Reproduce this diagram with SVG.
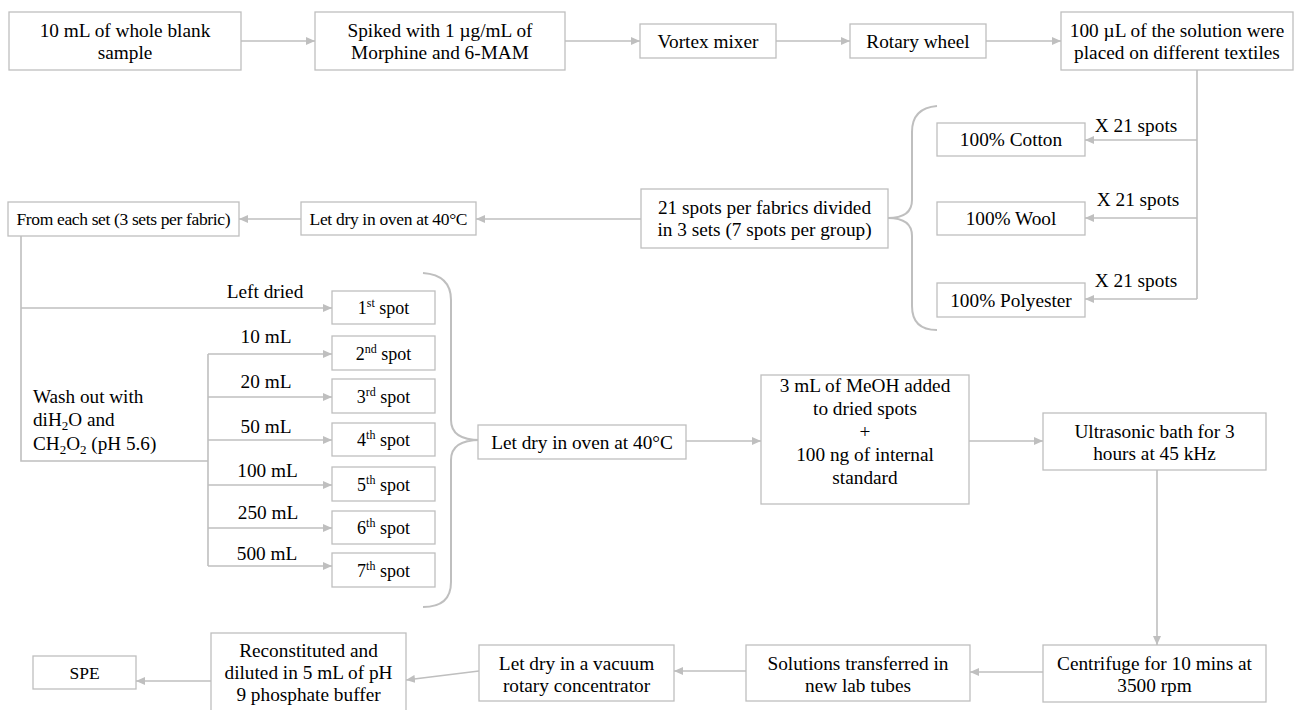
<svg xmlns="http://www.w3.org/2000/svg" width="1298" height="710" viewBox="0 0 1298 710">
<defs>
<marker id="ah" markerUnits="userSpaceOnUse" markerWidth="9" markerHeight="8" refX="9" refY="4" orient="auto">
<path d="M0,0 L9,4 L0,8 z" fill="#bfbfbf"/>
</marker>
<style>
.b{fill:#fff;stroke:#bfbfbf;stroke-width:1.3}
.t{font-family:"Liberation Serif","Times New Roman",serif;font-size:19.3px;fill:#000;text-anchor:middle}
.l{font-family:"Liberation Serif","Times New Roman",serif;font-size:19.2px;fill:#000}
.sm{font-size:17.5px}
.sp{font-size:18px}
.c{fill:none;stroke:#bfbfbf;stroke-width:1.6}
.a{fill:none;stroke:#bfbfbf;stroke-width:1.6;marker-end:url(#ah)}
.br{fill:none;stroke:#bfbfbf;stroke-width:2}
</style>
</defs>
<rect width="1298" height="710" fill="#fff"/>
<g id="connectors">
<line class="a" x1="241" y1="41" x2="315" y2="41"/>
<line class="a" x1="565" y1="41" x2="640" y2="41"/>
<line class="a" x1="776" y1="41" x2="850" y2="41"/>
<line class="a" x1="986" y1="41" x2="1061" y2="41"/>
<line class="c" x1="1197" y1="70" x2="1197" y2="299"/>
<line class="a" x1="1197" y1="140" x2="1085" y2="140"/>
<line class="a" x1="1197" y1="218" x2="1085" y2="218"/>
<line class="a" x1="1197" y1="299" x2="1085" y2="299"/>
<line class="a" x1="641" y1="219" x2="476" y2="219"/>
<line class="a" x1="301" y1="219" x2="239" y2="219"/>
<polyline class="c" points="21,236 21,461 208,461"/>
<line class="a" x1="21" y1="308" x2="332" y2="308"/>
<line class="c" x1="208" y1="354" x2="208" y2="566"/>
<line class="a" x1="208" y1="354" x2="332" y2="354"/>
<line class="a" x1="208" y1="397" x2="332" y2="397"/>
<line class="a" x1="208" y1="440" x2="332" y2="440"/>
<line class="a" x1="208" y1="485" x2="332" y2="485"/>
<line class="a" x1="208" y1="528" x2="332" y2="528"/>
<line class="a" x1="208" y1="566" x2="332" y2="566"/>
<line class="a" x1="686" y1="441" x2="761" y2="441"/>
<line class="a" x1="969" y1="441" x2="1043" y2="441"/>
<line class="a" x1="1157" y1="470" x2="1157" y2="645"/>
<line class="a" x1="1043" y1="672" x2="970" y2="672"/>
<line class="a" x1="746" y1="671" x2="674" y2="671"/>
<line class="a" x1="479" y1="671" x2="406" y2="680"/>
<line class="a" x1="211" y1="681" x2="136" y2="681"/>
<path class="br" d="M937,106 Q912,108 912,132 L912,200 Q912,218 888,218 Q912,218 912,236 L912,306 Q912,330 937,330"/>
<path class="br" d="M423,273 Q451,275 451,300 L451,420 Q451,440 480,440 Q451,440 451,460 L451,582 Q451,607 423,607"/>
</g>
<g id="n1"><rect class="b" x="9" y="12" width="232" height="58"/><text class="t" x="125" y="37">10 mL of whole blank</text><text class="t" x="125" y="59">sample</text></g>
<g id="n2"><rect class="b" x="315" y="12" width="250" height="58"/><text class="t" x="440" y="37">Spiked with 1 µg/mL of</text><text class="t" x="440" y="59">Morphine and 6-MAM</text></g>
<g id="n3"><rect class="b" x="640" y="24" width="136" height="34"/><text class="t" x="708" y="47.5">Vortex mixer</text></g>
<g id="n4"><rect class="b" x="850" y="24" width="136" height="34"/><text class="t" x="918" y="47.5">Rotary wheel</text></g>
<g id="n5"><rect class="b" x="1061" y="12" width="232" height="58"/><text class="t" x="1177" y="37">100 µL of the solution were</text><text class="t" x="1177" y="59">placed on different textiles</text></g>
<g id="cotton"><rect class="b" x="937" y="123" width="148" height="33"/><text class="t" x="1011" y="146">100% Cotton</text></g>
<g id="wool"><rect class="b" x="937" y="202" width="148" height="33"/><text class="t" x="1011" y="225">100% Wool</text></g>
<g id="polyester"><rect class="b" x="937" y="283" width="148" height="34"/><text class="t" x="1011" y="306.5">100% Polyester</text></g>
<g id="labels-x21"><text class="t" x="1136" y="132">X 21 spots</text><text class="t" x="1138" y="206">X 21 spots</text><text class="t" x="1136" y="287">X 21 spots</text></g>
<g id="n21"><rect class="b" x="641" y="189" width="247" height="59"/><text class="t" x="764.5" y="214">21 spots per fabrics divided</text><text class="t" x="764.5" y="236">in 3 sets (7 spots per group)</text></g>
<g id="dry1"><rect class="b" x="301" y="202" width="175" height="33"/><text class="t sm" x="388.5" y="224.5" textLength="158" lengthAdjust="spacing">Let dry in oven at 40°C</text></g>
<g id="fromeach"><rect class="b" x="8" y="202" width="231" height="34"/><text class="t sm" x="123.5" y="225" textLength="214" lengthAdjust="spacing">From each set (3 sets per fabric)</text></g>
<g id="branch-labels">
<text class="t" x="265" y="298">Left dried</text>
<text class="t" x="266" y="343">10 mL</text>
<text class="t" x="266" y="388">20 mL</text>
<text class="t" x="266" y="433">50 mL</text>
<text class="t" x="267.5" y="477">100 mL</text>
<text class="t" x="268" y="519">250 mL</text>
<text class="t" x="267" y="560">500 mL</text>
<text class="l" x="33" y="403">Wash out with</text>
<text class="l" x="33" y="426">diH<tspan font-size="13" dy="4">2</tspan><tspan dy="-4">O and</tspan></text>
<text class="l" x="33" y="450">CH<tspan font-size="13" dy="4">2</tspan><tspan dy="-4">O</tspan><tspan font-size="13" dy="4">2</tspan><tspan dy="-4"> (pH 5.6)</tspan></text>
</g>
<g id="s1"><rect class="b" x="332" y="291" width="103" height="33"/><text class="t sp" x="383.5" y="314">1<tspan font-size="12" dy="-7">st</tspan><tspan dy="7"> spot</tspan></text></g>
<g id="s2"><rect class="b" x="332" y="336" width="103" height="34"/><text class="t sp" x="383.5" y="359.5">2<tspan font-size="12" dy="-7">nd</tspan><tspan dy="7"> spot</tspan></text></g>
<g id="s3"><rect class="b" x="332" y="379" width="103" height="34"/><text class="t sp" x="383.5" y="402.5">3<tspan font-size="12" dy="-7">rd</tspan><tspan dy="7"> spot</tspan></text></g>
<g id="s4"><rect class="b" x="332" y="423" width="103" height="33"/><text class="t sp" x="383.5" y="446">4<tspan font-size="12" dy="-7">th</tspan><tspan dy="7"> spot</tspan></text></g>
<g id="s5"><rect class="b" x="332" y="467" width="103" height="34"/><text class="t sp" x="383.5" y="490.5">5<tspan font-size="12" dy="-7">th</tspan><tspan dy="7"> spot</tspan></text></g>
<g id="s6"><rect class="b" x="332" y="511" width="103" height="33"/><text class="t sp" x="383.5" y="534">6<tspan font-size="12" dy="-7">th</tspan><tspan dy="7"> spot</tspan></text></g>
<g id="s7"><rect class="b" x="332" y="553" width="103" height="34"/><text class="t sp" x="383.5" y="576.5">7<tspan font-size="12" dy="-7">th</tspan><tspan dy="7"> spot</tspan></text></g>
<g id="dry2"><rect class="b" x="478" y="425" width="208" height="34"/><text class="t" x="582" y="448.5">Let dry in oven at 40°C</text></g>
<g id="meoh"><rect class="b" x="761" y="375" width="208" height="129"/>
<text class="t" x="865" y="392">3 mL of MeOH added</text>
<text class="t" x="865" y="415">to dried spots</text>
<text class="t" x="865" y="438">+</text>
<text class="t" x="865" y="461">100 ng of internal</text>
<text class="t" x="865" y="484">standard</text></g>
<g id="ultra"><rect class="b" x="1043" y="413" width="223" height="57"/><text class="t" x="1154.5" y="438">Ultrasonic bath for 3</text><text class="t" x="1154.5" y="460">hours at 45 kHz</text></g>
<g id="centri"><rect class="b" x="1043" y="645" width="223" height="57"/><text class="t" x="1154.5" y="670">Centrifuge for 10 mins at</text><text class="t" x="1154.5" y="692">3500 rpm</text></g>
<g id="transfer"><rect class="b" x="746" y="645" width="224" height="56"/><text class="t" x="858" y="670">Solutions transferred in</text><text class="t" x="858" y="692">new lab tubes</text></g>
<g id="vacuum"><rect class="b" x="479" y="645" width="195" height="56"/><text class="t" x="576.5" y="670">Let dry in a vacuum</text><text class="t" x="576.5" y="692">rotary concentrator</text></g>
<g id="recon"><rect class="b" x="211" y="633" width="195" height="84"/><text class="t" x="308.5" y="657">Reconstituted and</text><text class="t" x="308.5" y="679">diluted in 5 mL of pH</text><text class="t" x="308.5" y="701">9 phosphate buffer</text></g>
<g id="spe"><rect class="b" x="33" y="656" width="103" height="33"/><text class="t sm" x="84.5" y="679">SPE</text></g>
</svg>
